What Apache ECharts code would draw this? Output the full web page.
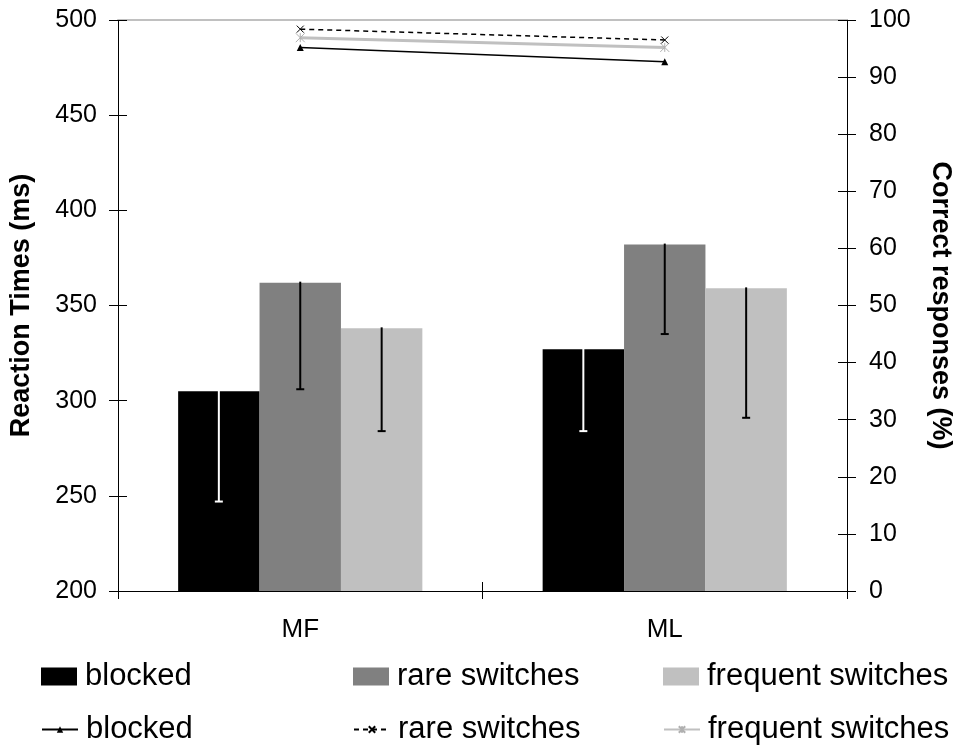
<!DOCTYPE html>
<html>
<head>
<meta charset="utf-8">
<script src="https://cdn.jsdelivr.net/npm/echarts@6/dist/echarts.min.js"></script>
<style>
  html, body { margin: 0; padding: 0; background: #fff; }
  #chart { width: 953px; height: 747px; }
</style>
</head>
<body>
<div id="chart"></div>
<script>
// Conditions on the x axis
const categories = ['MF', 'ML'];

// Mean reaction times (ms) per condition
const rtBlocked = [305, 327];
const rtRare = [362, 382];
const rtFrequent = [338, 359];

// Error bar lengths (ms), drawn downward from the bar top
const errBlocked = [58, 43];
const errRare = [56, 47];
const errFrequent = [54, 68];

// Correct responses (%) per condition
const accBlocked = [95.2, 92.7];
const accRare = [98.4, 96.5];
const accFrequent = [96.9, 95.2];

// Axis ranges
const rtRange = { min: 200, max: 500, interval: 50 };
const accRange = { min: 0, max: 100, interval: 10 };

const FONT = "'Liberation Sans', Arial, Helvetica, sans-serif";
const CAT_GAP = 0.33;

const seriesLabels = {
  'blocked': 'blocked',
  'rare switches': 'rare switches',
  'frequent switches': 'frequent switches',
  'blocked (accuracy)': 'blocked',
  'rare switches (accuracy)': 'rare switches',
  'frequent switches (accuracy)': 'frequent switches'
};

const SYMBOL_X = 'path://M0,0L10,10M10,0L0,10';
const SYMBOL_STAR = 'path://M5,0L5,10M0,0L10,10M10,0L0,10';

function errorData(means, errs) {
  return means.map((m, i) => [i, m, m - errs[i]]);
}

// Draws a one-sided error bar below the top of bar number `slot` in the group
function errorBarRenderer(slot, color) {
  return function (params, api) {
    const band = api.size([1, 0])[0];
    const barW = band * (1 - CAT_GAP) / 3;
    const top = api.coord([api.value(0), api.value(1)]);
    const low = api.coord([api.value(0), api.value(2)]);
    const x = top[0] + (slot - 1) * barW;
    return {
      type: 'group',
      children: [
        { type: 'line', shape: { x1: x, y1: top[1] - 1, x2: x, y2: low[1] },
          style: { stroke: color, lineWidth: 2 } },
        { type: 'line', shape: { x1: x - 4, y1: low[1], x2: x + 4, y2: low[1] },
          style: { stroke: color, lineWidth: 2 } }
      ]
    };
  };
}

function legendAt(name, icon, left, top, itemHeight) {
  return {
    data: [icon ? { name: name, icon: icon } : name],
    left: left, top: top,
    padding: 0,
    itemWidth: 36, itemHeight: itemHeight,
    selectedMode: false,
    formatter: n => seriesLabels[n],
    textStyle: { fontFamily: FONT, fontSize: 31, color: '#000', padding: [0, 0, 0, 3] }
  };
}

const axisLabelStyle = { fontFamily: FONT, fontSize: 25, color: '#000' };
const blackLine = { show: true, lineStyle: { color: '#000', width: 1 } };

const chart = echarts.init(document.getElementById('chart'), null, { renderer: 'canvas' });

chart.setOption({
  animation: false,
  backgroundColor: '#fff',
  grid: { left: 118, right: 106, top: 20, bottom: 156, containLabel: false, outerBoundsMode: 'none' },
  legend: [
    legendAt('blocked', 'rect', 41, 661, 18),
    legendAt('rare switches', 'rect', 353, 661, 18),
    legendAt('frequent switches', 'rect', 663, 661, 18),
    legendAt('blocked (accuracy)', null, 41, 714, 8),
    legendAt('rare switches (accuracy)', null, 353, 714, 8),
    legendAt('frequent switches (accuracy)', null, 663, 714, 8)
  ],
  xAxis: [
    {
      type: 'category', data: categories, position: 'bottom',
      axisLine: blackLine,
      axisTick: { show: true, inside: false, length: 8, lineStyle: { color: '#000' } },
      axisLabel: Object.assign({ margin: 26 }, axisLabelStyle, { fontSize: 26 }),
      splitLine: { show: false }
    },
    {
      type: 'category', data: categories, position: 'bottom',
      axisLine: { show: false },
      axisTick: { show: true, inside: true, length: 9, lineStyle: { color: '#000' } },
      axisLabel: { show: false },
      splitLine: { show: false }
    },
    {
      type: 'category', data: categories, position: 'top',
      axisLine: { show: true, lineStyle: { color: '#c0c0c0', width: 2 } },
      axisTick: { show: false },
      axisLabel: { show: false },
      splitLine: { show: false }
    }
  ],
  yAxis: [
    {
      type: 'value', position: 'left',
      min: rtRange.min, max: rtRange.max, interval: rtRange.interval,
      axisLine: blackLine,
      axisTick: { show: true, length: 9, lineStyle: { color: '#000' } },
      axisLabel: Object.assign({ margin: 21 }, axisLabelStyle),
      splitLine: { show: false },
      name: 'Reaction Times (ms)', nameLocation: 'middle', nameGap: 83,
      nameTextStyle: { fontFamily: FONT, fontSize: 27, fontWeight: 'bold', color: '#000' }
    },
    {
      type: 'value', position: 'right',
      min: accRange.min, max: accRange.max, interval: accRange.interval,
      axisLine: blackLine,
      axisTick: { show: true, length: 9, lineStyle: { color: '#000' } },
      axisLabel: Object.assign({ margin: 22 }, axisLabelStyle),
      splitLine: { show: false },
      name: 'Correct responses (%)', nameLocation: 'middle', nameGap: 80, nameRotate: -90,
      nameTextStyle: { fontFamily: FONT, fontSize: 27, fontWeight: 'bold', color: '#000' }
    },
    {
      type: 'value', position: 'left',
      min: rtRange.min, max: rtRange.max, interval: rtRange.interval,
      axisLine: { show: false },
      axisTick: { show: true, inside: true, length: 9, lineStyle: { color: '#000' } },
      axisLabel: { show: false },
      splitLine: { show: false }
    },
    {
      type: 'value', position: 'right',
      min: accRange.min, max: accRange.max, interval: accRange.interval,
      axisLine: { show: false },
      axisTick: { show: true, inside: true, length: 9, lineStyle: { color: '#000' } },
      axisLabel: { show: false },
      splitLine: { show: false }
    }
  ],
  series: [
    { name: 'blocked', type: 'bar', data: rtBlocked, xAxisIndex: 0, yAxisIndex: 0,
      barGap: 0, barCategoryGap: (CAT_GAP * 100) + '%', itemStyle: { color: '#000000' } },
    { name: 'rare switches', type: 'bar', data: rtRare, xAxisIndex: 0, yAxisIndex: 0,
      barGap: 0, barCategoryGap: (CAT_GAP * 100) + '%', itemStyle: { color: '#808080' } },
    { name: 'frequent switches', type: 'bar', data: rtFrequent, xAxisIndex: 0, yAxisIndex: 0,
      barGap: 0, barCategoryGap: (CAT_GAP * 100) + '%', itemStyle: { color: '#c0c0c0' } },

    { type: 'custom', xAxisIndex: 0, yAxisIndex: 0, z: 5,
      renderItem: errorBarRenderer(0, '#ffffff'), data: errorData(rtBlocked, errBlocked) },
    { type: 'custom', xAxisIndex: 0, yAxisIndex: 0, z: 5,
      renderItem: errorBarRenderer(1, '#000000'), data: errorData(rtRare, errRare) },
    { type: 'custom', xAxisIndex: 0, yAxisIndex: 0, z: 5,
      renderItem: errorBarRenderer(2, '#000000'), data: errorData(rtFrequent, errFrequent) },

    { name: 'frequent switches (accuracy)', type: 'line', data: accFrequent,
      xAxisIndex: 0, yAxisIndex: 1, z: 6,
      symbol: SYMBOL_STAR, symbolSize: 9,
      itemStyle: { color: '#c0c0c0', borderColor: '#b0b0b0', borderWidth: 1 },
      lineStyle: { color: '#c0c0c0', width: 3 } },
    { name: 'rare switches (accuracy)', type: 'line', data: accRare,
      xAxisIndex: 0, yAxisIndex: 1, z: 6,
      symbol: SYMBOL_X, symbolSize: 7,
      itemStyle: { color: '#000', borderColor: '#000', borderWidth: 1 },
      lineStyle: { color: '#000', width: 1.5, type: [5, 4] } },
    { name: 'blocked (accuracy)', type: 'line', data: accBlocked,
      xAxisIndex: 0, yAxisIndex: 1, z: 6,
      symbol: 'triangle', symbolSize: 7,
      itemStyle: { color: '#000' },
      lineStyle: { color: '#000', width: 1.5 } }
  ]
});
</script>
</body>
</html>
